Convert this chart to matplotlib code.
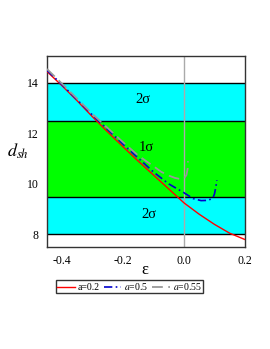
import matplotlib

matplotlib.use("Agg")
import matplotlib.pyplot as plt  # noqa: E402

plt.rcParams["font.family"] = ["Liberation Serif", "DejaVu Serif"]
plt.rcParams["mathtext.fontset"] = "stix"

# curve a=0.2
eps_a02 = [-0.45, -0.4, -0.35, -0.3, -0.25, -0.2, -0.15, -0.1, -0.05, 0.0, 0.05, 0.1, 0.15, 0.2]
d_a02 = [14.45, 13.88, 13.28, 12.65, 12.05, 11.47, 10.9, 10.35, 9.8, 9.25, 8.8, 8.4, 8.05, 7.8]

# curve a=0.5
eps_a05 = [-0.45, -0.4, -0.3, -0.2, -0.1, -0.05, 0.0, 0.03, 0.056, 0.08, 0.095, 0.1, 0.105, 0.108]
d_a05 = [14.5, 13.92, 12.72, 11.57, 10.47, 10.0, 9.65, 9.42, 9.34, 9.35, 9.45, 9.6, 9.9, 10.15]

# curve a=0.55
eps_a055 = [-0.45, -0.4, -0.3, -0.2, -0.15, -0.1, -0.075, -0.05, -0.03, -0.015, 0.0, 0.008, 0.012, 0.013]
d_a055 = [14.55, 13.96, 12.76, 11.65, 11.12, 10.7, 10.48, 10.33, 10.24, 10.2, 10.22, 10.35, 10.6, 10.9]

# confidence bands (lower, upper, colour, label, label position)
bands = [
    (8.0, 9.5, "#00ffff", "2σ", -0.115, 8.78),
    (9.5, 12.5, "#00ff00", "1σ", -0.125, 11.43),
    (12.5, 14.0, "#00ffff", "2σ", -0.135, 13.33),
]

fig = plt.figure(figsize=(2.7, 3.49), dpi=100)
ax = fig.add_axes([0.174, 0.292, 0.733, 0.548])

for lo, hi, col, lab, lx, ly in bands:
    ax.axhspan(lo, hi, color=col, lw=0, zorder=0)
    ax.text(lx, ly, lab, fontsize=10.5, ha="center", va="center")
for lvl in [8.0, 9.5, 12.5, 14.0]:
    ax.axhline(lvl, color="black", lw=1.0, zorder=1)
ax.axvline(0.0, color="#aaaaaa", lw=1.0, zorder=1)

ax.plot(eps_a02, d_a02, color="red", lw=1.0, label="a=0.2", zorder=3)
ax.plot(eps_a05, d_a05, color="#0000cc", lw=1.2, ls=(0, (5, 2, 1, 2)), label=r"$a$=0.5", zorder=4)
ax.plot(eps_a055, d_a055, color="#999999", lw=1.3, ls=(0, (6, 3)), label=r"$a$=0.55", zorder=5)

ax.set_xlim(-0.45, 0.2)
ax.set_ylim(7.5, 15.07)
ax.set_xticks([-0.4, -0.2, 0.0, 0.2])
ax.set_xticklabels(["-0.4", "-0.2", "0.0", "0.2"])
ax.set_yticks([8, 10, 12, 14])
ax.tick_params(labelsize=8.5, length=0, pad=6)
for s in ax.spines.values():
    s.set_color("#333333")
    s.set_linewidth(1.0)

fig.text(0.537, 0.226, "ε", fontsize=12, ha="center", va="center")
ax.set_ylabel(r"$d_{sh}$", fontsize=13, rotation=0, labelpad=6, va="center")

fig.legend(loc="center", bbox_to_anchor=(0.48, 0.179), ncol=3, fontsize=7,
           frameon=True, fancybox=False, edgecolor="black", handlelength=1.8,
           handletextpad=0.3, columnspacing=0.4, borderpad=0.15, borderaxespad=0)

fig.savefig("out.png", dpi=100)
